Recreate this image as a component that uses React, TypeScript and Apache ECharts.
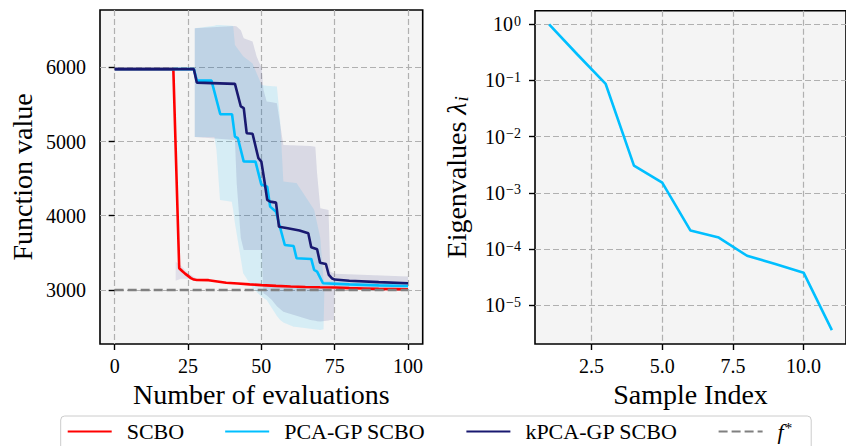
import React, { useEffect, useRef } from "react";
import * as echarts from "echarts";

// ---------- data ----------
const xTicksLeft = [0, 25, 50, 75, 100];
const yTicksLeft = [3000, 4000, 5000, 6000];
const xTicksRight = [2.5, 5.0, 7.5, 10.0];
const yTicksRight = [1e-5, 1e-4, 1e-3, 1e-2, 1e-1, 1];
const fStar = 3000;

const scboX = [0, 20, 22, 23, 24, 25, 26, 27, 28, 32, 35, 38, 42, 46, 50, 55, 60, 65, 70, 75, 80, 85, 90, 95, 100];
const scboY = [5975, 5975, 3292, 3255, 3220, 3190, 3160, 3140, 3135, 3132, 3115, 3098, 3088, 3075, 3065, 3055, 3047, 3040, 3036, 3033, 3025, 3020, 3015, 3012, 3009];

const pcaX = [0, 27, 28, 33, 36, 40, 41, 42, 44, 48, 50, 52, 53, 55, 56, 58, 61, 62, 67, 68, 69, 71, 80, 90, 100];
const pcaY = [5975, 5975, 5821, 5821, 5368, 5368, 5066, 5044, 4730, 4729, 4420, 4390, 4123, 4055, 3899, 3606, 3593, 3427, 3418, 3270, 3247, 3090, 3075, 3062, 3054];

const kpcaX = [0, 27, 28, 41, 43, 44, 45, 47, 49, 50, 51, 52, 53, 55, 56, 59, 63, 66, 67, 69, 70, 72, 73, 74, 75, 80, 90, 100];
const kpcaY = [5975, 5975, 5794, 5777, 5472, 5450, 5112, 5104, 4775, 4729, 4482, 4213, 4190, 4177, 3853, 3831, 3801, 3764, 3575, 3548, 3368, 3350, 3202, 3158, 3140, 3125, 3105, 3090];

// [x, lower, upper]
const scboBand = [
  [20.8, 3125, 3380], [22.5, 3150, 3330], [25, 3150, 3230], [28, 3120, 3150],
];
const pcaBand = [
  [27.3, 5060, 6527], [34, 5060, 6560], [34.7, 4887, 6571], [35.9, 4213, 6571],
  [39.9, 4190, 6560], [40.4, 4078, 6555], [41, 3900, 6300], [43.8, 3225, 6150],
  [47, 3030, 6050], [50.1, 2910, 5760], [51.8, 2865, 5750], [55.3, 2650, 5740],
  [56.4, 2596, 5290], [57.5, 2560, 4460], [61, 2505, 4445], [62, 2500, 4440],
  [68, 2470, 4080], [70.1, 2461, 3700], [71.2, 2470, 3135], [71.5, 3030, 3120],
  [100, 3010, 3100],
];
const kpcaBand = [
  [27.3, 5060, 6527], [41, 5022, 6558], [41.6, 4438, 6550], [43, 3700, 6500],
  [44, 3540, 6392], [47, 3540, 6347], [48.4, 3540, 6145], [50.1, 3539, 5988],
  [50.7, 2955, 5700], [51.8, 2930, 5538], [53.6, 2865, 5530], [55.3, 2780, 5516],
  [57.5, 2708, 4954], [66.7, 2596, 4940], [68.4, 2585, 4931], [69, 2580, 4573],
  [70.1, 2575, 4101], [72.9, 2590, 4078], [73.5, 2596, 3247], [74.7, 2596, 3225],
  [75, 3040, 3220], [100, 3030, 3180],
];

const sampleIndex = [1, 2, 3, 4, 5, 6, 7, 8, 9, 10, 11];
const eigenvalues = [1.0, 0.29, 0.0867, 0.00305, 0.00152, 2.13e-4, 1.6e-4, 7.6e-5, 5.4e-5, 3.8e-5, 3.6e-6];

const FONT = "Liberation Serif";

export default function App() {
  const ref = useRef<HTMLDivElement>(null);
  useEffect(() => {
    const chart = echarts.init(ref.current!, null, { renderer: "svg" });

    const zip = (xs: number[], ys: number[]) => xs.map((x, i) => [x, ys[i]]);

    const bandSeries = (band: number[][], color: string) => ({
      type: "custom",
      xAxisIndex: 0,
      yAxisIndex: 0,
      silent: true,
      z: 1,
      clip: true,
      data: [[50, 4000]],
      renderItem: (_p: any, api: any) => {
        const top = band.map((b) => api.coord([b[0], b[2]]));
        const bot = band.slice().reverse().map((b) => api.coord([b[0], b[1]]));
        return { type: "polygon", shape: { points: top.concat(bot) }, style: { fill: color } };
      },
    });

    const minorVals: number[] = [];
    for (let e = -6; e <= 0; e++) for (let m = 2; m <= 9; m++) minorVals.push(m * Math.pow(10, e));

    const rMin = 2.04e-6;
    const rMax = 1.746;

    const gridLine = { show: true, lineStyle: { color: "#b0b0b0", width: 1.2, type: [6, 3] } };
    const tick = { show: true, length: 6, lineStyle: { color: "#000", width: 1.4 } };
    const label = { color: "#000", fontFamily: FONT, fontSize: 20 };
    const nameStyle = { color: "#000", fontFamily: FONT, fontSize: 28 };

    const option: any = {
      animation: false,
      backgroundColor: "#fff",
      textStyle: { fontFamily: FONT },
      grid: [
        { left: 100, top: 10, width: 322.7, height: 334, show: true, backgroundColor: "#f4f4f4", borderColor: "#000", borderWidth: 1.6 },
        { left: 535, top: 10.7, width: 321, height: 333.3, show: true, backgroundColor: "#f4f4f4", borderColor: "#000", borderWidth: 1.6 },
      ],
      xAxis: [
        {
          type: "value", gridIndex: 0, min: -5, max: 105,
          axisLine: { show: false },
          axisTick: { ...tick, customValues: xTicksLeft },
          axisLabel: { ...label, margin: 12, customValues: xTicksLeft, formatter: (v: number) => String(v) },
          splitLine: gridLine,
          name: "Number of evaluations", nameLocation: "middle", nameGap: 36, nameTextStyle: nameStyle,
        },
        {
          type: "value", gridIndex: 1, min: 0.5, max: 11.5,
          axisLine: { show: false },
          axisTick: { ...tick, customValues: xTicksRight },
          axisLabel: { ...label, margin: 12, customValues: xTicksRight, formatter: (v: number) => v.toFixed(1) },
          splitLine: gridLine,
          name: "Sample Index", nameLocation: "middle", nameGap: 36, nameTextStyle: nameStyle,
        },
      ],
      yAxis: [
        {
          type: "value", gridIndex: 0, min: 2272, max: 6772,
          axisLine: { show: false },
          axisTick: { ...tick, customValues: yTicksLeft },
          axisLabel: { ...label, margin: 14, customValues: yTicksLeft, formatter: (v: number) => String(v) },
          splitLine: gridLine,
          name: "Function value", nameLocation: "middle", nameGap: 64, nameTextStyle: nameStyle,
        },
        {
          type: "log", logBase: 10, gridIndex: 1, min: rMin, max: rMax,
          axisLine: { show: false },
          axisTick: { ...tick, customValues: yTicksRight },
          axisLabel: {
            margin: 14,
            fontFamily: FONT,
            customValues: yTicksRight,
            formatter: (v: number) => {
              const e = Math.round(Math.log10(v));
              return `{b|10}{s|${e < 0 ? "\u2212" + -e : e}}`;
            },
            rich: {
              b: { fontFamily: FONT, fontSize: 20, color: "#000", lineHeight: 20, verticalAlign: "bottom" },
              s: { fontFamily: FONT, fontSize: 14, color: "#000", lineHeight: 14, verticalAlign: "top", padding: [0, 0, 8, 1] },
            },
          },
          splitLine: gridLine,
          name: "Eigenvalues {it|\u03bb}{sub|i}", nameLocation: "middle", nameGap: 64,
          nameTextStyle: {
            ...nameStyle,
            rich: {
              it: { fontFamily: FONT, fontSize: 28, fontStyle: "italic", color: "#000" },
              sub: { fontFamily: FONT, fontSize: 19, fontStyle: "italic", color: "#000", verticalAlign: "bottom", padding: [10, 0, 0, 1] },
            },
          },
        },
        {
          type: "log", logBase: 10, gridIndex: 1, min: rMin, max: rMax,
          axisLine: { show: false },
          axisTick: { show: true, length: 3.5, lineStyle: { color: "#000", width: 1 }, customValues: minorVals.filter((v) => v >= rMin && v <= rMax) },
          axisLabel: { show: false },
          splitLine: { show: false },
        },
      ],
      legend: {
        left: 60.7, top: 416, orient: "horizontal",
        itemWidth: 44, itemHeight: 14, itemGap: 40,
        padding: [4, 19, 10, 6],
        backgroundColor: "rgba(255,255,255,0.85)", borderColor: "#cccccc", borderWidth: 1, borderRadius: 4,
        selectedMode: false,
        itemStyle: { opacity: 0 },
        data: ["SCBO", "PCA-GP SCBO", "kPCA-GP SCBO", "f*"],
        formatter: (n: string) => (n === "f*" ? "{i|f}{p|*}" : n),
        textStyle: {
          fontFamily: FONT, fontSize: 22, color: "#000", padding: [0, 0, 0, 10],
          rich: {
            i: { fontFamily: FONT, fontSize: 22, fontStyle: "italic", color: "#000" },
            p: { fontFamily: FONT, fontSize: 15, color: "#000", verticalAlign: "top", padding: [0, 0, 8, 1] },
          },
        },
      },
      series: [
        bandSeries(scboBand, "rgba(60,40,140,0.1)"),
        bandSeries(pcaBand, "rgba(0,191,255,0.12)"),
        bandSeries(kpcaBand, "rgba(25,25,112,0.12)"),
        {
          name: "SCBO", type: "line", xAxisIndex: 0, yAxisIndex: 0, symbol: "none",
          data: zip(scboX, scboY), lineStyle: { color: "#ff0000", width: 2.6 }, itemStyle: { color: "#ff0000" }, z: 3,
        },
        {
          name: "PCA-GP SCBO", type: "line", xAxisIndex: 0, yAxisIndex: 0, symbol: "none",
          data: zip(pcaX, pcaY), lineStyle: { color: "#00bfff", width: 2.6 }, itemStyle: { color: "#00bfff" }, z: 4,
        },
        {
          name: "kPCA-GP SCBO", type: "line", xAxisIndex: 0, yAxisIndex: 0, symbol: "none",
          data: zip(kpcaX, kpcaY), lineStyle: { color: "#191970", width: 2.6 }, itemStyle: { color: "#191970" }, z: 5,
        },
        {
          name: "f*", type: "line", xAxisIndex: 0, yAxisIndex: 0, symbol: "none",
          data: [[0, fStar], [100, fStar]], lineStyle: { color: "#808080", width: 2.6, type: [9, 4] }, itemStyle: { color: "#808080" }, z: 6,
        },
        {
          name: "eig", type: "line", xAxisIndex: 1, yAxisIndex: 1, symbol: "none",
          data: zip(sampleIndex, eigenvalues), lineStyle: { color: "#00bfff", width: 2.6 }, itemStyle: { color: "#00bfff" },
        },
      ],
    };
    chart.setOption(option);
    return () => chart.dispose();
  }, []);
  return <div ref={ref} style={{ position: "absolute", left: 0, top: 0, width: 846, height: 446 }} />;
}
